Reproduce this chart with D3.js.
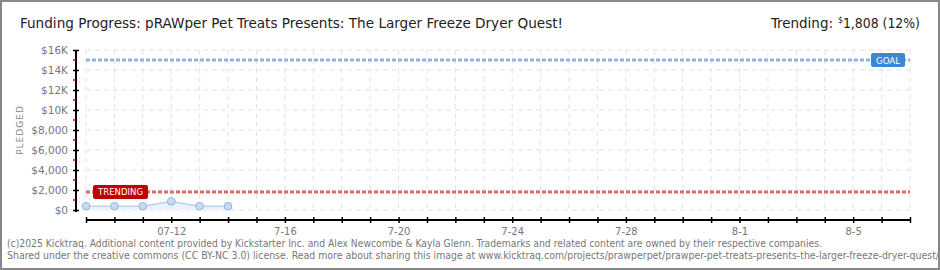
<!DOCTYPE html>
<html>
<head>
<meta charset="utf-8">
<script src="https://cdn.jsdelivr.net/npm/d3@7"></script>
<style>
body { margin: 0; background: #fff; }
svg text { font-family: "DejaVu Sans", sans-serif; }
</style>
</head>
<body>
<div id="chart"></div>
<script>
// data
var title = "Funding Progress: pRAWper Pet Treats Presents: The Larger Freeze Dryer Quest!";
var dates = ["2025-07-09", "2025-07-10", "2025-07-11", "2025-07-12", "2025-07-13", "2025-07-14"];
var pledged = [380, 380, 380, 860, 380, 380];
var goal = 15000;
var trending = 1808;
var trendingPct = "12%";
var xDomain = ["2025-07-09", "2025-08-07"];
var xLabelDates = ["2025-07-12", "2025-07-16", "2025-07-20", "2025-07-24", "2025-07-28", "2025-08-01", "2025-08-05"];
var xLabels = ["07-12", "7-16", "7-20", "7-24", "7-28", "8-1", "8-5"];
var yTicks = [0, 2000, 4000, 6000, 8000, 10000, 12000, 14000, 16000];
var yLabels = ["$0", "$2,000", "$4,000", "$6,000", "$8,000", "$10K", "$12K", "$14K", "$16K"];
var footer = [
  "(c)2025 Kicktraq. Additional content provided by Kickstarter Inc. and Alex Newcombe & Kayla Glenn. Trademarks and related content are owned by their respective companies.",
  "Shared under the creative commons (CC BY-NC 3.0) license. Read more about sharing this image at www.kicktraq.com/projects/prawperpet/prawper-pet-treats-presents-the-larger-freeze-dryer-quest/"
];

var W = 940, H = 270;
var parse = d3.utcParse("%Y-%m-%d");

svg = d3.select('#chart').append('svg')
  .attr('width', W)
  .attr('height', H);

svg.append('rect')
  .attr('width', W)
  .attr('height', H)
  .attr('fill', 'white');

var x = d3.scaleUtc()
  .domain(xDomain.map(parse))
  .range([86, 910]);

var y = d3.scaleLinear()
  .domain([0, 16000])
  .range([210, 50]);

var days = d3.utcDay.range(x.domain()[0], d3.utcDay.offset(x.domain()[1], 1));

// grid lines
svg.append('g').selectAll('line')
  .data(days)
  .enter().append('line')
  .attr('x1', function (d) { return x(d); })
  .attr('x2', function (d) { return x(d); })
  .attr('y1', 50)
  .attr('y2', 212)
  .style('stroke', '#e3e3e3')
  .style('stroke-dasharray', '5,4');

svg.append('g').selectAll('line')
  .data(yTicks)
  .enter().append('line')
  .attr('x1', 86)
  .attr('x2', 910)
  .attr('y1', function (d) { return y(d); })
  .attr('y2', function (d) { return y(d); })
  .style('stroke', '#e3e3e3')
  .style('stroke-dasharray', '5,4');

// pledged area + line + points
var pts = dates.map(function (d, i) { return { date: parse(d), v: pledged[i] }; });

svg.append('path')
  .datum(pts)
  .attr('fill', '#eaf3fc')
  .attr('d', d3.area()
    .x(function (d) { return x(d.date); })
    .y0(y(0))
    .y1(function (d) { return y(d.v); }));

svg.append('path')
  .datum(pts)
  .attr('fill', 'none')
  .attr('stroke', '#b5d2f0')
  .attr('stroke-width', 1.5)
  .attr('d', d3.line()
    .x(function (d) { return x(d.date); })
    .y(function (d) { return y(d.v); }));

svg.append('g').selectAll('circle')
  .data(pts)
  .enter().append('circle')
  .attr('cx', function (d) { return x(d.date); })
  .attr('cy', function (d) { return y(d.v); })
  .attr('r', 3.8)
  .attr('fill', '#c6dcf6')
  .attr('stroke', '#94b3da')
  .attr('stroke-width', 1);

// goal and trending lines
function refLine(val, color) {
  svg.append('line')
    .attr('x1', 86).attr('x2', 910)
    .attr('y1', y(val)).attr('y2', y(val))
    .style('stroke', color)
    .style('stroke-width', 3)
    .style('stroke-dasharray', '4,2');
}
refLine(goal, '#8fb4de');
refLine(trending, '#e06868');

function badge(x0, w, yc, color, label) {
  svg.append('rect')
    .attr('x', x0).attr('y', yc - 7)
    .attr('width', w).attr('height', 14)
    .attr('rx', 2)
    .attr('fill', color);
  svg.append('text')
    .attr('x', x0 + w / 2).attr('y', yc + 3.5)
    .attr('text-anchor', 'middle')
    .attr('fill', 'white')
    .attr('textLength', w - 10)
    .attr('lengthAdjust', 'spacingAndGlyphs')
    .style('font-size', '9.5px')
    .text(label);
}
badge(871, 34, y(goal), '#3a87d6', 'GOAL');
badge(93, 55, y(trending), '#c00000', 'TRENDING');

// x axis
var xAxis = svg.append('g')
  .attr('transform', 'translate(0,220)')
  .call(d3.axisBottom(x)
    .tickValues(days)
    .tickSize(3)
    .tickFormat(function (d) {
      var k = xLabelDates.indexOf(d3.utcFormat("%Y-%m-%d")(d));
      return k < 0 ? "" : xLabels[k];
    }));
xAxis.select('.domain').attr('d', 'M86,0H910').attr('stroke', '#000').attr('stroke-width', 2);
xAxis.selectAll('.tick line').attr('y1', -3).attr('y2', 3).attr('stroke', '#000').attr('stroke-width', 1.5);
xAxis.selectAll('.tick text').attr('y', 8).attr('fill', '#777')
  .style('font-size', '10px').style('font-family', '"DejaVu Sans", sans-serif');

// y axis
var yAxis = svg.append('g')
  .attr('transform', 'translate(76,0)')
  .call(d3.axisLeft(y)
    .tickValues(yTicks)
    .tickSize(3)
    .tickFormat(function (d, i) { return yLabels[i]; }));
yAxis.select('.domain').attr('d', 'M0,50V212').attr('stroke', '#000').attr('stroke-width', 2);
yAxis.selectAll('.tick line').attr('x1', -3).attr('x2', 3).attr('stroke', '#000').attr('stroke-width', 1.5);
yAxis.selectAll('.tick text').attr('x', -8).attr('fill', '#777')
  .style('font-size', '10.5px').style('font-family', '"DejaVu Sans", sans-serif');

// red minor ticks
svg.append('g').selectAll('line')
  .data(d3.range(1000, 16000, 2000))
  .enter().append('line')
  .attr('x1', 73).attr('x2', 76)
  .attr('y1', function (d) { return y(d); })
  .attr('y2', function (d) { return y(d); })
  .style('stroke', '#e00000')
  .style('stroke-width', 1.5);

svg.append('text')
  .attr('transform', 'translate(23,130) rotate(-90)')
  .attr('text-anchor', 'middle')
  .attr('fill', '#888')
  .style('font-size', '9px')
  .style('letter-spacing', '1px')
  .text('PLEDGED');

// title and trending text
var headFont = '"DejaVu Sans Condensed", "DejaVu Sans", sans-serif';
svg.append('text')
  .attr('x', 20).attr('y', 28)
  .attr('textLength', 543)
  .attr('lengthAdjust', 'spacingAndGlyphs')
  .style('font-family', headFont)
  .style('font-size', '14.5px')
  .attr('fill', '#222')
  .text(title);

svg.append('text')
  .attr('x', 771).attr('y', 28)
  .attr('textLength', 62)
  .attr('lengthAdjust', 'spacingAndGlyphs')
  .style('font-family', headFont)
  .style('font-size', '14.5px')
  .attr('fill', '#222')
  .text('Trending:');

var tr = svg.append('text')
  .attr('x', 838).attr('y', 28)
  .attr('textLength', 82)
  .attr('lengthAdjust', 'spacingAndGlyphs')
  .style('font-family', headFont)
  .style('font-size', '14.5px')
  .attr('fill', '#222');
tr.append('tspan').attr('dy', -5).style('font-size', '9px').text('$');
tr.append('tspan').attr('dy', 5).text(d3.format(",")(trending) + ' (' + trendingPct + ')');

// footer
svg.append('g').selectAll('text')
  .data(footer)
  .enter().append('text')
  .attr('x', 7)
  .attr('y', function (d, i) { return 247 + i * 12; })
  .attr('textLength', function (d, i) { return i === 0 ? 815 : 932; })
  .attr('lengthAdjust', 'spacingAndGlyphs')
  .style('font-family', headFont)
  .style('font-size', '10px')
  .attr('fill', '#777')
  .text(function (d) { return d; });

// frame
svg.append('rect')
  .attr('x', 1).attr('y', 1)
  .attr('width', W - 2).attr('height', H - 2)
  .attr('fill', 'none')
  .attr('stroke', '#888')
  .attr('stroke-width', 2);
</script>
</body>
</html>
